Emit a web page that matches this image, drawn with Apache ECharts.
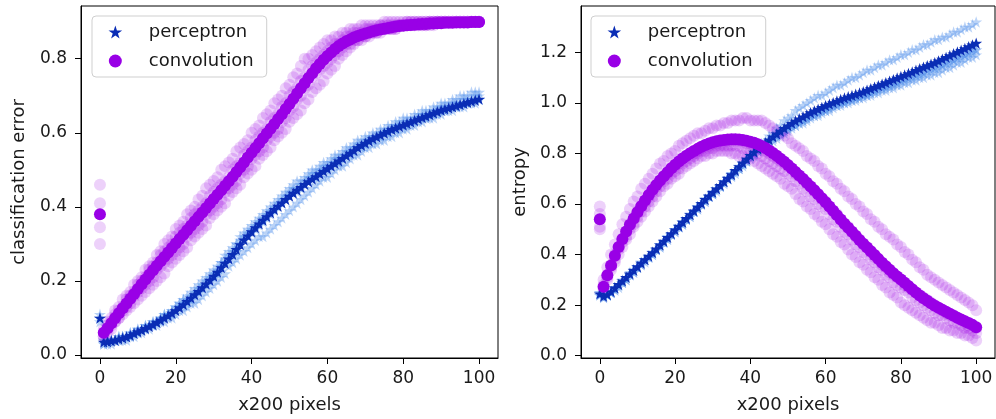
<!DOCTYPE html>
<html>
<head>
<meta charset="utf-8">
<script src="https://cdn.jsdelivr.net/npm/echarts@6/dist/echarts.min.js"></script>
<style>html,body{margin:0;padding:0;background:#fff}#c{width:996px;height:419px}</style>
</head>
<body>
<div id="c"></div>
<script>
// x positions (x200 pixels)
const steps = [0,1,2,3,4,5,6,7,8,9,10,11,12,13,14,15,16,17,18,19,20,21,22,23,24,25,26,27,28,29,30,31,32,33,34,35,36,37,38,39,40,41,42,43,44,45,46,47,48,49,50,51,52,53,54,55,56,57,58,59,60,61,62,63,64,65,66,67,68,69,70,71,72,73,74,75,76,77,78,79,80,81,82,83,84,85,86,87,88,89,90,91,92,93,94,95,96,97,98,99,100];
const xTicks = [0,20,40,60,80,100];
const yTicksErr = [0,0.2,0.4,0.6,0.8];
const yTicksEnt = [0,0.2,0.4,0.6,0.8,1.0,1.2];

// ---- classification error: perceptron (mean + runs)
const errPercMean = [0.100,
0.035,0.036,0.038,0.040,0.043,0.046,0.049,0.053,0.058,0.063,
0.067,0.072,0.077,0.082,0.088,0.094,0.100,0.106,0.113,0.120,
0.128,0.136,0.145,0.154,0.163,0.172,0.182,0.192,0.202,0.213,
0.224,0.236,0.248,0.260,0.272,0.285,0.298,0.311,0.322,0.333,
0.344,0.354,0.364,0.374,0.384,0.393,0.402,0.411,0.420,0.429,
0.437,0.445,0.453,0.461,0.468,0.475,0.482,0.489,0.496,0.503,
0.510,0.517,0.524,0.531,0.538,0.545,0.552,0.560,0.566,0.572,
0.578,0.584,0.589,0.594,0.599,0.604,0.609,0.613,0.617,0.621,
0.625,0.629,0.633,0.637,0.641,0.645,0.649,0.653,0.657,0.661,
0.664,0.667,0.670,0.673,0.676,0.679,0.682,0.685,0.688,0.691];
const errPercRunA = [0.10,
0.04,0.04,0.04,0.04,0.05,0.05,0.05,0.06,0.06,0.07,
0.07,0.08,0.08,0.09,0.09,0.10,0.11,0.11,0.12,0.13,
0.14,0.15,0.16,0.17,0.18,0.19,0.20,0.21,0.22,0.23,
0.24,0.25,0.27,0.28,0.29,0.30,0.32,0.33,0.34,0.35,
0.36,0.37,0.38,0.39,0.40,0.41,0.42,0.43,0.44,0.45,
0.46,0.47,0.47,0.48,0.49,0.50,0.50,0.51,0.52,0.52,
0.53,0.54,0.54,0.55,0.56,0.56,0.57,0.58,0.58,0.59,
0.59,0.60,0.60,0.61,0.61,0.62,0.62,0.63,0.63,0.64,
0.64,0.64,0.65,0.65,0.66,0.66,0.66,0.67,0.67,0.68,
0.68,0.68,0.69,0.69,0.70,0.70,0.70,0.71,0.71,0.71];
const errPercRunB = [0.10,
0.03,0.03,0.03,0.04,0.04,0.04,0.04,0.05,0.05,0.06,
0.06,0.07,0.07,0.08,0.08,0.09,0.09,0.10,0.10,0.11,
0.12,0.12,0.13,0.14,0.14,0.15,0.16,0.17,0.18,0.19,
0.20,0.21,0.22,0.24,0.25,0.26,0.27,0.28,0.29,0.30,
0.31,0.32,0.32,0.33,0.34,0.35,0.36,0.37,0.38,0.39,
0.40,0.41,0.42,0.43,0.44,0.45,0.46,0.47,0.48,0.48,
0.49,0.50,0.51,0.51,0.52,0.53,0.54,0.54,0.55,0.56,
0.56,0.57,0.57,0.58,0.58,0.59,0.59,0.60,0.60,0.61,
0.61,0.62,0.62,0.63,0.63,0.64,0.64,0.64,0.65,0.65,
0.66,0.66,0.66,0.67,0.67,0.67,0.68,0.68,0.68,0.69];
const errPercRunC = [0.11,
0.04,0.04,0.04,0.04,0.05,0.05,0.05,0.06,0.06,0.07,
0.07,0.08,0.08,0.09,0.09,0.10,0.11,0.11,0.12,0.13,
0.14,0.15,0.15,0.16,0.17,0.18,0.19,0.20,0.21,0.22,
0.23,0.25,0.26,0.27,0.28,0.30,0.31,0.32,0.33,0.34,
0.35,0.36,0.37,0.38,0.39,0.40,0.41,0.42,0.43,0.44,
0.45,0.45,0.46,0.47,0.48,0.49,0.49,0.50,0.51,0.51,
0.52,0.53,0.53,0.54,0.55,0.55,0.56,0.57,0.57,0.58,
0.58,0.59,0.59,0.60,0.60,0.61,0.61,0.62,0.62,0.63,
0.63,0.63,0.64,0.64,0.65,0.65,0.65,0.66,0.66,0.67,
0.67,0.67,0.68,0.68,0.68,0.69,0.69,0.69,0.70,0.70];
const errPercRunD = [0.09,
0.03,0.04,0.04,0.04,0.04,0.05,0.05,0.05,0.06,0.06,
0.07,0.07,0.08,0.08,0.09,0.10,0.10,0.11,0.11,0.12,
0.13,0.14,0.14,0.15,0.16,0.17,0.18,0.19,0.20,0.21,
0.22,0.24,0.25,0.26,0.27,0.28,0.30,0.31,0.32,0.33,
0.34,0.35,0.36,0.37,0.38,0.39,0.40,0.41,0.42,0.43,
0.44,0.44,0.45,0.46,0.47,0.48,0.48,0.49,0.50,0.50,
0.51,0.52,0.52,0.53,0.54,0.54,0.55,0.56,0.56,0.57,
0.58,0.58,0.59,0.59,0.60,0.60,0.61,0.61,0.62,0.62,
0.62,0.63,0.63,0.64,0.64,0.64,0.65,0.65,0.66,0.66,
0.66,0.67,0.67,0.67,0.68,0.68,0.68,0.69,0.69,0.69];

// ---- classification error: convolution (mean + runs)
const errConvMean = [0.38,
0.060,0.072,0.086,0.100,0.113,0.126,0.139,0.152,0.165,0.178,
0.191,0.204,0.217,0.229,0.241,0.253,0.265,0.277,0.289,0.301,
0.313,0.325,0.337,0.349,0.361,0.373,0.385,0.397,0.409,0.421,
0.433,0.445,0.457,0.469,0.481,0.494,0.507,0.520,0.533,0.546,
0.559,0.572,0.585,0.598,0.611,0.624,0.637,0.650,0.664,0.678,
0.692,0.706,0.720,0.734,0.748,0.761,0.774,0.786,0.797,0.807,
0.817,0.826,0.834,0.841,0.847,0.852,0.857,0.861,0.865,0.868,
0.871,0.874,0.877,0.879,0.881,0.883,0.885,0.887,0.888,0.889,
0.890,0.891,0.892,0.893,0.894,0.894,0.895,0.895,0.896,0.896,
0.897,0.897,0.897,0.898,0.898,0.898,0.898,0.899,0.899,0.899];
const errConvRunA = [0.46,
0.07,0.09,0.10,0.12,0.13,0.15,0.16,0.17,0.19,0.20,
0.21,0.23,0.24,0.25,0.27,0.28,0.30,0.31,0.32,0.34,
0.35,0.36,0.38,0.39,0.40,0.42,0.43,0.45,0.46,0.47,
0.48,0.50,0.51,0.52,0.53,0.55,0.56,0.57,0.58,0.60,
0.61,0.62,0.64,0.65,0.66,0.68,0.69,0.70,0.72,0.73,
0.75,0.76,0.78,0.80,0.80,0.81,0.82,0.83,0.84,0.85,
0.85,0.86,0.86,0.87,0.87,0.88,0.88,0.88,0.89,0.89,
0.89,0.89,0.89,0.89,0.90,0.90,0.90,0.90,0.90,0.90,
0.90,0.90,0.90,0.90,0.90,0.90,0.90,0.90,0.90,0.90,
0.90,0.90,0.90,0.90,0.90,0.90,0.90,0.90,0.90,0.90];
const errConvRunB = [0.30,
0.05,0.06,0.07,0.09,0.10,0.11,0.12,0.13,0.14,0.15,
0.16,0.17,0.18,0.19,0.20,0.21,0.22,0.24,0.25,0.26,
0.27,0.28,0.29,0.31,0.32,0.33,0.34,0.35,0.37,0.38,
0.39,0.40,0.41,0.43,0.44,0.45,0.46,0.48,0.49,0.50,
0.51,0.53,0.54,0.55,0.56,0.58,0.59,0.60,0.61,0.63,
0.64,0.65,0.66,0.68,0.69,0.71,0.72,0.73,0.74,0.76,
0.77,0.78,0.80,0.81,0.82,0.83,0.84,0.85,0.85,0.86,
0.86,0.87,0.87,0.87,0.88,0.88,0.88,0.88,0.89,0.89,
0.89,0.89,0.89,0.89,0.89,0.89,0.89,0.89,0.90,0.90,
0.90,0.90,0.90,0.90,0.90,0.90,0.90,0.90,0.90,0.90];
const errConvRunC = [0.41,
0.06,0.08,0.09,0.11,0.12,0.13,0.15,0.16,0.17,0.19,
0.20,0.21,0.23,0.24,0.25,0.27,0.28,0.29,0.30,0.32,
0.33,0.34,0.35,0.37,0.38,0.39,0.40,0.41,0.43,0.44,
0.45,0.46,0.47,0.48,0.50,0.51,0.52,0.54,0.55,0.56,
0.58,0.59,0.60,0.61,0.63,0.64,0.65,0.67,0.68,0.70,
0.71,0.72,0.74,0.75,0.77,0.78,0.79,0.80,0.81,0.82,
0.83,0.84,0.84,0.85,0.86,0.86,0.87,0.87,0.87,0.88,
0.88,0.88,0.88,0.89,0.89,0.89,0.89,0.89,0.89,0.89,
0.90,0.90,0.90,0.90,0.90,0.90,0.90,0.90,0.90,0.90,
0.90,0.90,0.90,0.90,0.90,0.90,0.90,0.90,0.90,0.90];
const errConvRunD = [0.345,
0.05,0.07,0.08,0.09,0.10,0.12,0.13,0.14,0.16,0.17,
0.18,0.19,0.20,0.21,0.23,0.24,0.25,0.26,0.27,0.28,
0.29,0.30,0.32,0.33,0.34,0.35,0.36,0.38,0.39,0.40,
0.41,0.42,0.44,0.45,0.46,0.47,0.49,0.50,0.51,0.53,
0.54,0.55,0.56,0.58,0.59,0.60,0.61,0.63,0.64,0.66,
0.67,0.69,0.70,0.72,0.73,0.75,0.76,0.77,0.78,0.79,
0.80,0.81,0.82,0.83,0.84,0.84,0.85,0.85,0.86,0.86,
0.87,0.87,0.87,0.88,0.88,0.88,0.88,0.88,0.89,0.89,
0.89,0.89,0.89,0.89,0.89,0.89,0.90,0.90,0.90,0.90,
0.90,0.90,0.90,0.90,0.90,0.90,0.90,0.90,0.90,0.90];

// ---- entropy: perceptron (mean + runs)
const entPercMean = [0.245,
0.235,0.242,0.254,0.268,0.282,0.296,0.310,0.324,0.338,0.352,
0.366,0.380,0.394,0.408,0.423,0.438,0.453,0.468,0.483,0.498,
0.513,0.528,0.543,0.558,0.573,0.588,0.603,0.618,0.632,0.646,
0.660,0.674,0.688,0.702,0.716,0.733,0.748,0.763,0.778,0.792,
0.805,0.818,0.830,0.842,0.854,0.866,0.877,0.888,0.899,0.909,
0.919,0.928,0.937,0.945,0.953,0.961,0.968,0.975,0.982,0.989,
0.995,1.001,1.007,1.013,1.019,1.024,1.029,1.034,1.039,1.044,
1.050,1.056,1.062,1.068,1.074,1.080,1.086,1.092,1.098,1.104,
1.110,1.116,1.122,1.129,1.135,1.141,1.147,1.153,1.159,1.166,
1.173,1.180,1.187,1.194,1.201,1.208,1.215,1.222,1.229,1.236];
const entPercRunA = [0.25,
0.24,0.24,0.25,0.27,0.28,0.30,0.31,0.33,0.34,0.35,
0.37,0.38,0.39,0.41,0.42,0.44,0.45,0.47,0.48,0.50,
0.51,0.53,0.54,0.56,0.57,0.59,0.60,0.62,0.63,0.65,
0.66,0.67,0.69,0.70,0.72,0.73,0.75,0.76,0.78,0.79,
0.81,0.82,0.84,0.85,0.87,0.88,0.90,0.91,0.93,0.94,
0.95,0.97,0.98,0.99,1.00,1.01,1.02,1.03,1.03,1.04,
1.05,1.06,1.07,1.07,1.08,1.09,1.10,1.10,1.11,1.12,
1.13,1.13,1.14,1.15,1.15,1.16,1.17,1.17,1.18,1.19,
1.19,1.20,1.21,1.21,1.22,1.23,1.23,1.24,1.25,1.25,
1.26,1.26,1.27,1.28,1.28,1.29,1.30,1.30,1.31,1.32];
const entPercRunB = [0.24,
0.23,0.24,0.25,0.26,0.27,0.29,0.30,0.32,0.33,0.35,
0.36,0.38,0.39,0.40,0.42,0.43,0.45,0.46,0.48,0.49,
0.51,0.52,0.54,0.55,0.57,0.58,0.60,0.61,0.63,0.64,
0.65,0.67,0.68,0.70,0.71,0.72,0.74,0.75,0.77,0.78,
0.79,0.81,0.82,0.83,0.84,0.85,0.86,0.87,0.88,0.89,
0.90,0.91,0.92,0.92,0.93,0.94,0.95,0.95,0.96,0.97,
0.97,0.98,0.99,0.99,1.00,1.00,1.01,1.01,1.02,1.02,
1.03,1.03,1.04,1.04,1.05,1.05,1.06,1.06,1.07,1.07,
1.08,1.08,1.09,1.09,1.10,1.10,1.11,1.11,1.12,1.12,
1.13,1.14,1.14,1.15,1.16,1.16,1.17,1.18,1.18,1.19];
const entPercRunC = [0.25,
0.24,0.24,0.25,0.27,0.28,0.29,0.31,0.32,0.34,0.35,
0.37,0.38,0.39,0.41,0.42,0.44,0.45,0.47,0.48,0.50,
0.51,0.53,0.54,0.56,0.57,0.59,0.60,0.62,0.63,0.64,
0.66,0.67,0.69,0.70,0.71,0.73,0.74,0.76,0.77,0.79,
0.80,0.81,0.82,0.84,0.85,0.86,0.87,0.88,0.89,0.90,
0.91,0.91,0.92,0.93,0.94,0.95,0.95,0.96,0.97,0.97,
0.98,0.99,0.99,1.00,1.00,1.01,1.01,1.02,1.02,1.03,
1.03,1.04,1.05,1.05,1.06,1.06,1.07,1.07,1.08,1.09,
1.09,1.10,1.10,1.11,1.11,1.12,1.13,1.13,1.14,1.14,
1.15,1.16,1.16,1.17,1.18,1.18,1.19,1.20,1.20,1.21];
const entPercRunD = [0.24,
0.23,0.24,0.25,0.26,0.28,0.29,0.30,0.32,0.33,0.35,
0.36,0.37,0.39,0.40,0.42,0.43,0.45,0.46,0.48,0.49,
0.51,0.52,0.54,0.55,0.57,0.58,0.60,0.61,0.63,0.64,
0.66,0.67,0.69,0.70,0.72,0.73,0.74,0.76,0.77,0.79,
0.80,0.81,0.83,0.84,0.85,0.86,0.87,0.88,0.89,0.90,
0.91,0.92,0.93,0.93,0.94,0.95,0.96,0.96,0.97,0.98,
0.98,0.99,1.00,1.00,1.01,1.01,1.02,1.02,1.03,1.03,
1.04,1.04,1.05,1.06,1.06,1.07,1.07,1.08,1.08,1.09,
1.10,1.10,1.11,1.11,1.12,1.12,1.13,1.14,1.14,1.15,
1.15,1.16,1.17,1.17,1.18,1.19,1.19,1.20,1.21,1.21];

// ---- entropy: convolution (mean + runs)
const entConvMean = [0.540,
0.273,0.318,0.357,0.395,0.430,0.462,0.491,0.518,0.543,0.567,
0.591,0.614,0.636,0.656,0.675,0.693,0.710,0.726,0.741,0.755,
0.768,0.780,0.791,0.801,0.810,0.818,0.826,0.833,0.839,0.844,
0.848,0.851,0.853,0.855,0.856,0.856,0.855,0.853,0.850,0.846,
0.842,0.836,0.829,0.821,0.812,0.802,0.791,0.779,0.767,0.754,
0.740,0.727,0.713,0.699,0.684,0.669,0.654,0.639,0.623,0.607,
0.590,0.573,0.556,0.539,0.522,0.506,0.490,0.474,0.458,0.443,
0.428,0.413,0.398,0.383,0.368,0.354,0.340,0.326,0.313,0.301,
0.289,0.276,0.263,0.250,0.238,0.227,0.217,0.207,0.198,0.190,
0.182,0.174,0.166,0.158,0.150,0.143,0.136,0.129,0.122,0.113];
const entConvRunA = [0.59,
0.30,0.35,0.40,0.44,0.48,0.52,0.55,0.58,0.61,0.63,
0.66,0.68,0.70,0.72,0.74,0.76,0.77,0.79,0.80,0.81,
0.83,0.84,0.85,0.86,0.87,0.88,0.88,0.89,0.90,0.90,
0.91,0.91,0.92,0.92,0.93,0.93,0.93,0.94,0.94,0.93,
0.93,0.93,0.93,0.92,0.91,0.90,0.89,0.88,0.87,0.86,
0.84,0.83,0.82,0.81,0.79,0.78,0.77,0.75,0.74,0.72,
0.71,0.69,0.68,0.66,0.65,0.63,0.62,0.60,0.59,0.57,
0.56,0.54,0.53,0.51,0.50,0.48,0.47,0.46,0.44,0.43,
0.41,0.40,0.38,0.37,0.35,0.34,0.32,0.31,0.30,0.29,
0.28,0.27,0.26,0.25,0.24,0.23,0.22,0.21,0.20,0.18];
const entConvRunB = [0.50,
0.26,0.30,0.34,0.37,0.40,0.43,0.46,0.48,0.51,0.53,
0.55,0.57,0.59,0.61,0.63,0.65,0.67,0.68,0.70,0.71,
0.72,0.74,0.75,0.76,0.77,0.78,0.79,0.79,0.80,0.80,
0.81,0.81,0.81,0.81,0.80,0.80,0.79,0.79,0.78,0.78,
0.77,0.76,0.75,0.74,0.73,0.72,0.71,0.70,0.68,0.67,
0.66,0.64,0.62,0.61,0.59,0.58,0.56,0.55,0.53,0.52,
0.50,0.48,0.47,0.45,0.44,0.42,0.40,0.39,0.37,0.36,
0.34,0.33,0.31,0.30,0.28,0.27,0.25,0.24,0.23,0.21,
0.20,0.19,0.18,0.17,0.16,0.15,0.14,0.13,0.13,0.12,
0.11,0.11,0.10,0.10,0.09,0.09,0.08,0.08,0.07,0.06];
const entConvRunC = [0.56,
0.28,0.32,0.36,0.40,0.43,0.46,0.49,0.52,0.54,0.57,
0.59,0.61,0.63,0.65,0.67,0.69,0.71,0.72,0.74,0.75,
0.76,0.78,0.79,0.80,0.80,0.81,0.82,0.83,0.83,0.84,
0.84,0.85,0.85,0.85,0.85,0.85,0.85,0.85,0.84,0.84,
0.83,0.83,0.82,0.81,0.80,0.79,0.78,0.77,0.76,0.75,
0.74,0.72,0.71,0.70,0.68,0.67,0.65,0.64,0.62,0.61,
0.59,0.57,0.56,0.54,0.52,0.51,0.49,0.47,0.46,0.44,
0.43,0.41,0.39,0.38,0.36,0.35,0.33,0.32,0.31,0.30,
0.28,0.27,0.26,0.25,0.24,0.23,0.22,0.21,0.20,0.19,
0.18,0.17,0.16,0.16,0.15,0.14,0.13,0.12,0.12,0.11];
const entConvRunD = [0.51,
0.27,0.31,0.35,0.38,0.42,0.45,0.47,0.50,0.52,0.55,
0.57,0.59,0.61,0.63,0.65,0.67,0.69,0.70,0.72,0.73,
0.74,0.76,0.77,0.78,0.79,0.80,0.81,0.81,0.82,0.82,
0.83,0.83,0.83,0.83,0.83,0.83,0.83,0.82,0.82,0.81,
0.81,0.80,0.79,0.78,0.77,0.76,0.75,0.74,0.73,0.72,
0.71,0.69,0.68,0.66,0.65,0.63,0.62,0.60,0.59,0.58,
0.56,0.54,0.53,0.51,0.49,0.48,0.46,0.44,0.43,0.41,
0.40,0.38,0.37,0.35,0.34,0.32,0.31,0.29,0.28,0.27,
0.26,0.25,0.23,0.22,0.21,0.20,0.19,0.18,0.17,0.16,
0.16,0.15,0.14,0.13,0.13,0.12,0.11,0.11,0.10,0.09];

// ---- styling
const FONT = 'DejaVu Sans';
const TXT = '#1a1a1a';
const BLUE = '#0a2db5';
const PURPLE = '#9900e6';
const LIGHT_BLUE = 'rgba(90,150,235,0.42)';
const LIGHT_PURPLE = 'rgba(153,0,230,0.18)';
const STAR = 'path://M100,0 L122.45,69.1 L195.1,69.1 L136.3,111.8 L158.8,180.9 L100,138.2 L41.2,180.9 L63.7,111.8 L4.9,69.1 L77.55,69.1 Z';

function sc(name, arr, g, symbol, size, color) {
  return {
    type: 'scatter', name: name, xAxisIndex: g, yAxisIndex: g,
    data: steps.map((x, i) => [x, arr[i]]),
    symbol: symbol, symbolSize: size, symbolKeepAspect: true,
    itemStyle: { color: color, opacity: 1 }, silent: true, animation: false
  };
}

function xAx(g) {
  return {
    type: 'value', gridIndex: g, min: -5, max: 105,
    name: 'x200 pixels', nameLocation: 'middle', nameGap: 38,
    nameTextStyle: { fontFamily: FONT, fontSize: 18, color: TXT },
    axisLine: { show: true, onZero: false, lineStyle: { color: '#000', width: 1 } },
    axisTick: { show: true, customValues: xTicks, length: 6, lineStyle: { color: '#000', width: 1 } },
    axisLabel: { customValues: xTicks, margin: 12, fontFamily: FONT, fontSize: 17, color: TXT },
    splitLine: { show: false }
  };
}
function yAx(g, name, min, max, ticks, gap) {
  return {
    type: 'value', gridIndex: g, min: min, max: max,
    name: name, nameLocation: 'middle', nameGap: gap,
    nameTextStyle: { fontFamily: FONT, fontSize: 18, color: TXT },
    axisLine: { show: true, onZero: false, lineStyle: { color: '#000', width: 1 } },
    axisTick: { show: true, customValues: ticks, length: 6, lineStyle: { color: '#000', width: 1 } },
    axisLabel: { customValues: ticks, margin: 14, fontFamily: FONT, fontSize: 17, color: TXT,
      formatter: v => v.toFixed(1) },
    splitLine: { show: false }
  };
}
function leg(left) {
  return {
    left: left, top: 16, orient: 'vertical',
    data: [{ name: 'perceptron', icon: STAR }, { name: 'convolution', icon: 'circle' }],
    itemWidth: 29, itemHeight: 13, itemGap: 9,
    padding: [6, 13, 6, 16.5],
    backgroundColor: '#fff', borderColor: '#cfcfcf', borderWidth: 1, borderRadius: 4,
    itemStyle: { opacity: 1 },
    textStyle: { fontFamily: FONT, fontSize: 18, color: TXT, lineHeight: 20, padding: [0, 0, 0, 14] },
    selectedMode: false
  };
}

const chart = echarts.init(document.getElementById('c'), null, { renderer: 'canvas' });
chart.setOption({
  animation: false,
  backgroundColor: '#fff',
  textStyle: { fontFamily: FONT },
  grid: [
    { left: 81, top: 6, width: 417, height: 352, show: true, borderColor: '#000', borderWidth: 1, backgroundColor: 'transparent' },
    { left: 581, top: 6, width: 414, height: 352, show: true, borderColor: '#000', borderWidth: 1, backgroundColor: 'transparent' }
  ],
  xAxis: [xAx(0), xAx(1)],
  yAxis: [
    yAx(0, 'classification error', -0.008, 0.9423, yTicksErr, 53),
    yAx(1, 'entropy', -0.009, 1.383, yTicksEnt, 52)
  ],
  legend: [leg(92), leg(591)],
  series: [
    sc('p-run', errPercRunA, 0, STAR, 12, LIGHT_BLUE),
    sc('p-run', errPercRunB, 0, STAR, 12, LIGHT_BLUE),
    sc('p-run', errPercRunC, 0, STAR, 12, LIGHT_BLUE),
    sc('p-run', errPercRunD, 0, STAR, 12, LIGHT_BLUE),
    sc('c-run', errConvRunA, 0, 'circle', 12, LIGHT_PURPLE),
    sc('c-run', errConvRunB, 0, 'circle', 12, LIGHT_PURPLE),
    sc('c-run', errConvRunC, 0, 'circle', 12, LIGHT_PURPLE),
    sc('c-run', errConvRunD, 0, 'circle', 12, LIGHT_PURPLE),
    sc('perceptron', errPercMean, 0, STAR, 12, BLUE),
    sc('convolution', errConvMean, 0, 'circle', 12, PURPLE),

    sc('p-run', entPercRunA, 1, STAR, 12, LIGHT_BLUE),
    sc('p-run', entPercRunB, 1, STAR, 12, LIGHT_BLUE),
    sc('p-run', entPercRunC, 1, STAR, 12, LIGHT_BLUE),
    sc('p-run', entPercRunD, 1, STAR, 12, LIGHT_BLUE),
    sc('c-run', entConvRunA, 1, 'circle', 12, LIGHT_PURPLE),
    sc('c-run', entConvRunB, 1, 'circle', 12, LIGHT_PURPLE),
    sc('c-run', entConvRunC, 1, 'circle', 12, LIGHT_PURPLE),
    sc('c-run', entConvRunD, 1, 'circle', 12, LIGHT_PURPLE),
    sc('perceptron', entPercMean, 1, STAR, 12, BLUE),
    sc('convolution', entConvMean, 1, 'circle', 12, PURPLE)
  ]
});
</script>
</body>
</html>
